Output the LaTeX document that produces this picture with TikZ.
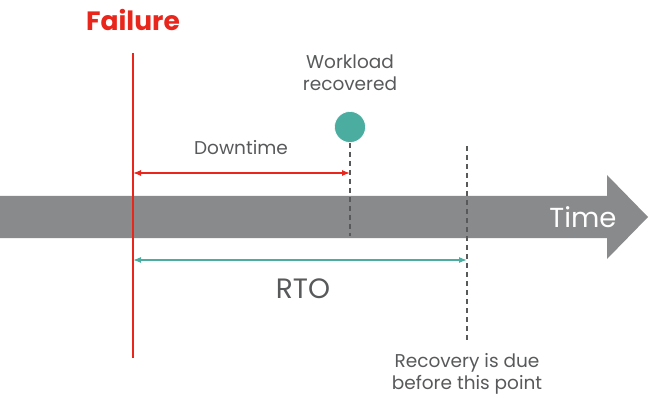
\documentclass[tikz,border=0pt]{standalone}
\usepackage{fontspec}
\setmainfont{Poppins}
\usepackage{tikz}
\usetikzlibrary{arrows.meta,positioning}
\definecolor{failred}{HTML}{E8261C}
\definecolor{axisgray}{HTML}{898A8C}
\definecolor{rtoteal}{HTML}{4AADA0}
\definecolor{textgray}{HTML}{58595B}
\tikzset{
  lbl/.style={text=textgray, align=center, inner sep=0pt, font=\fontsize{18.5}{22}\selectfont},
  biglbl/.style={text=textgray, inner sep=0pt, font=\fontsize{28}{28}\selectfont},
  span/.style={{Latex[length=8pt,width=6pt]}-{Latex[length=8pt,width=6pt]}, line width=1.2pt},
  guide/.style={draw=textgray, dash pattern=on 5pt off 4pt, line width=1.2pt},
  event/.style={circle, fill=rtoteal, draw=white, line width=0.6pt, minimum size=31pt, inner sep=0pt}
}
\begin{document}
\begin{tikzpicture}[x=1pt,y=-1pt]
\useasboundingbox (0,0) rectangle (650,398);
% time axis
\fill[axisgray] (0,196) -- (607,196) -- (607,175) -- (648,217) -- (607,259) -- (607,238) -- (0,238) -- cycle;
\node[text=white, inner sep=0pt, font=\fontsize{27.5}{28}\selectfont] (time) at (583,217) {Time};
% failure
\node[text=failred, inner sep=0pt, font=\fontsize{26.5}{27}\selectfont\bfseries] (failure) at (133,20) {Failure};
\coordinate (failtop) at (133,53);
\coordinate (failbot) at (133,358);
\draw[failred, line width=2.6pt] (failtop) -- (failbot);
% workload recovered
\node[event] (done) at (350,127) {};
\node[lbl] (donetxt) at (350,73) {Workload\\recovered};
\coordinate (donebot) at (350,236);
\draw[guide] (done.south) -- (donebot);
% recovery deadline
\coordinate (duetop) at (467,146);
\coordinate (duebot) at (467,343);
\draw[guide] (duetop) -- (duebot);
\node[lbl] (duetxt) at (467,374) {Recovery is due\\before this point};
% spans
\coordinate (dtl) at (133,173);
\coordinate (dtr) at (350,173);
\draw[span, failred] (dtl) -- (dtr);
\node[lbl] (downtime) at (241,148) {Downtime};
\coordinate (rtol) at (133,260);
\coordinate (rtor) at (467,260);
\draw[span, rtoteal] (rtol) -- (rtor);
\node[biglbl] (rto) at (303,289) {RTO};
\end{tikzpicture}
\end{document}
